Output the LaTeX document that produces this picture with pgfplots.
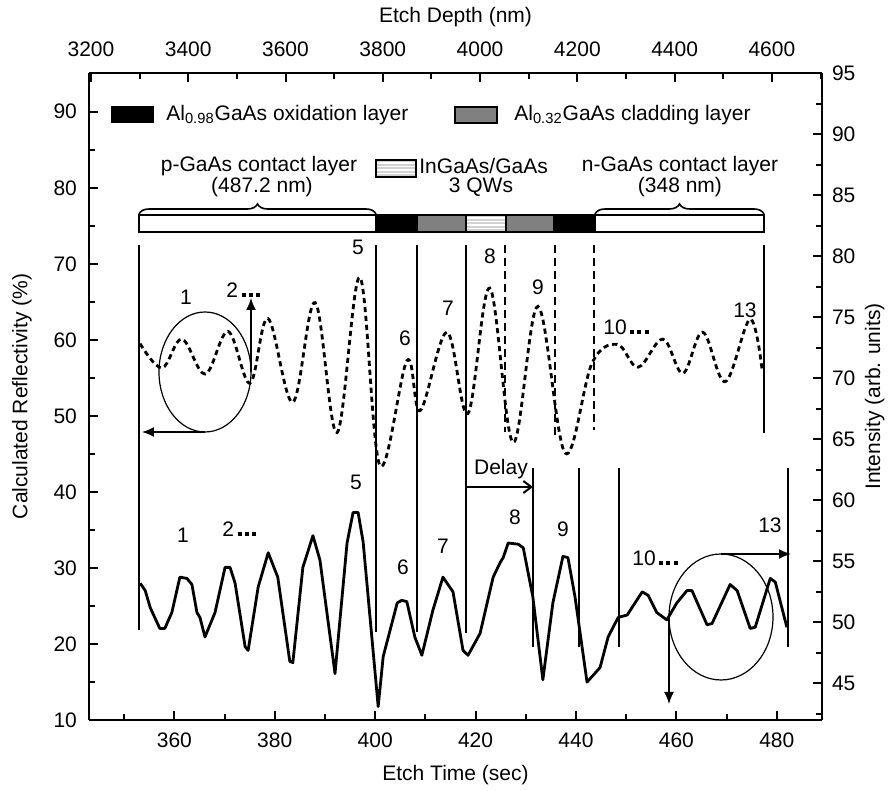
\documentclass[border=0pt]{standalone}
\usepackage{fontspec}
\setmainfont{Liberation Sans}
\usepackage{pgfplots}
\pgfplotsset{compat=1.18}
\usetikzlibrary{decorations.pathreplacing,arrows.meta}

% dotted curve: calculated reflectivity vs etch depth
\pgfplotstableread{
d R
3301 59.5
3346 56.3
3387 60.1
3435 55.5
3482 61.1
3527 54.3
3564 62.8
3615 51.8
3661 64.9
3706 47.8
3753 68.2
3794 43.5
3850 57.3
3877 50.7
3932 61.0
3975 50.3
4020 66.8
4068 46.5
4119 64.4
4175 45.1
4230 56.9
4282 59.4
4325 56.4
4376 60.1
4417 55.6
4458 61.0
4504 54.5
4555 62.7
4580 56.0
}\refl

% solid curve: measured intensity vs etch time
\pgfplotstableread{
t I
353.2 53.2
354.2 52.6
355.2 51.2
357.1 49.5
358.1 49.5
359.5 50.8
361.1 53.7
362.5 53.6
363.5 53.1
364.5 50.8
365.1 50.4
366.1 48.8
368.1 50.8
370.1 54.5
371.1 54.5
372.1 53.2
374.1 48.0
374.7 47.7
376.7 52.9
378.7 55.7
380.6 53.7
383.0 46.8
383.6 46.7
385.6 54.5
387.6 57.1
389.0 55.1
392.0 45.8
394.4 56.5
395.6 59.0
396.6 59.0
397.6 56.6
400.6 43.1
401.6 47.2
404.4 51.6
405.3 51.8
406.3 51.7
407.9 48.8
409.3 47.3
411.5 51.0
413.5 53.7
415.5 52.5
417.5 47.7
418.5 47.3
420.9 49.1
423.5 53.7
424.9 54.9
425.5 55.3
426.5 56.5
428.5 56.4
429.5 56.1
431.4 52.1
433.4 45.3
435.4 51.6
437.4 55.4
438.4 55.3
439.8 52.1
442.2 45.1
444.8 46.3
446.4 48.8
448.4 50.4
450.2 50.6
453.2 52.5
454.4 52.2
456.1 50.8
458.1 50.2
460.1 51.6
462.1 52.6
463.1 52.6
466.1 49.8
467.1 49.9
470.7 53.1
472.1 52.6
474.7 49.5
475.7 49.6
478.7 53.6
479.7 53.3
482.0 49.6
}\inten

\newcommand\sqdots{\,\rule{2pt}{2pt}\hspace{1.6pt}\rule{2pt}{2pt}\hspace{1.6pt}\rule{2pt}{2pt}}

\begin{document}
\begin{tikzpicture}[font=\fontsize{10.5}{12.6}\selectfont]
\pgfplotsset{
  base/.style={
    at={(0,0)}, anchor=south west, scale only axis,
    width=366.5pt, height=323.5pt,
    tick align=inside,
    major tick length=4.5pt, minor tick length=3pt,
    axis line style={line width=1.2pt},
    every tick/.style={line width=1pt, black},
    tick label style={font=\fontsize{10.5}{12.6}\selectfont},
    /pgf/number format/assume math mode=true,
    /pgf/number format/1000 sep={},
    scaled ticks=false,
  },
}
% bottom / left axes
\begin{axis}[base,
  xmin=343, xmax=489, ymin=10, ymax=95.1,
  axis x line*=bottom, axis y line*=left,
  xtick={360,380,...,480}, minor xtick={350,370,...,470},
  ytick={10,20,...,90}, minor ytick={15,25,...,85},
  xticklabel style={yshift=-3pt},
  yticklabel style={xshift=-2.5pt},
  xlabel={Etch Time (sec)},
  ylabel={Calculated Reflectivity (\%)},
  xlabel style={at={(axis description cs:0.5,-0.085)}, anchor=center},
  ylabel style={at={(axis description cs:-0.0914,0.5)}, anchor=center, rotate=0},
]
\end{axis}
% top axis: reflectivity vs etch depth
\begin{axis}[base,
  xmin=3196, xmax=4703, ymin=10, ymax=95.1,
  axis x line*=top, axis y line=none,
  xtick={3200,3400,...,4600}, minor xtick={3300,3500,...,4700},
  xticklabel style={yshift=4.5pt},
  xlabel={Etch Depth (nm)},
  xlabel style={at={(axis description cs:0.5,1.087)}, anchor=center},
]
\addplot[black, line width=1.4pt, dash pattern=on 2.6pt off 1.9pt, smooth, tension=0.6]
  table[x=d, y=R] {\refl};
\end{axis}
% right axis: intensity vs etch time
\begin{axis}[base,
  xmin=343, xmax=489, ymin=42, ymax=95,
  axis x line=none, axis y line*=right,
  ytick={45,50,...,95}, minor ytick={42.5,47.5,...,92.5},
  yticklabel style={xshift=1.5pt},
  ylabel={Intensity (arb. units)},
  ylabel style={at={(axis description cs:1.072,0.5)}, anchor=center, rotate=0},
]
\addplot[black, line width=1.4pt, line join=round] table[x=t, y=I] {\inten};
\end{axis}

% annotations, in picture pixel units (origin at top left of the picture)
\begin{scope}[shift={(-44.5pt,360pt)}, x=0.5pt, y=-0.5pt, every node/.style={inner sep=1pt}]
  % legend
  \fill (111,106) rectangle (154,123);
  \node[anchor=west] at (164,115) {Al\textsubscript{0.98}GaAs oxidation layer};
  \filldraw[fill=gray, line width=0.7pt] (455,107) rectangle (497,123);
  \node[anchor=west] at (512,115) {Al\textsubscript{0.32}GaAs cladding layer};
  % layer labels
  \node at (259,166) {p-GaAs contact layer};
  \node at (262,187) {(487.2 nm)};
  \fill[gray!35] (376,160) rectangle (416,177);
  \foreach \yy in {163,166.5,170,173.5} \draw[white, line width=0.8pt] (376,\yy) -- (416,\yy);
  \draw[line width=0.6pt] (376,160) rectangle (416,177);
  \node[anchor=west] at (417,166) {InGaAs/GaAs};
  \node at (481,187) {3 QWs};
  \node at (680,166) {n-GaAs contact layer};
  \node at (680,187) {(348 nm)};
  % layer bar
  \fill (376,215) rectangle (417,232);
  \fill[gray] (417,215) rectangle (466,232);
  \fill[gray!35] (466,215) rectangle (506,232);
  \foreach \yy in {218,221.5,225,228.5} \draw[white, line width=0.8pt] (466,\yy) -- (506,\yy);
  \fill[gray] (506,215) rectangle (554,232);
  \fill (554,215) rectangle (595,232);
  \draw[line width=0.9pt] (139,215) rectangle (764,232);
  \foreach \xx in {376,417,466,506,554,595} \draw[line width=0.9pt] (\xx,215) -- (\xx,232);
  % braces
  \draw[line width=0.8pt, decorate, decoration={brace, amplitude=5pt}] (139,214) -- (376,214);
  \draw[line width=0.8pt, decorate, decoration={brace, amplitude=5pt}] (595,214) -- (764,214);
  % marker lines for the calculated curve
  \foreach \xx/\yy in {139/630,376/632,417/632,466/633,764/433}
    \draw[line width=1pt] (\xx,245) -- (\xx,\yy);
  \foreach \xx/\yy in {505/432,555/436,594/430}
    \draw[line width=1pt, dash pattern=on 4pt off 2.5pt] (\xx,245) -- (\xx,\yy);
  % marker lines for the measured curve
  \foreach \xx in {533,579,619,788}
    \draw[line width=1pt] (\xx,468) -- (\xx,647);
  % delay
  \draw[line width=1pt, -{Straight Barb[length=4pt,width=6pt]}] (466,487) -- (533,487);
  \node at (501,469) {Delay};
  % circles and arrows
  \draw[line width=0.6pt] (205,372) ellipse [x radius=23pt, y radius=30pt];
  \draw[line width=0.8pt, -{Latex[length=6pt,width=5pt]}] (205,432) -- (142,432);
  \draw[line width=0.8pt, -{Latex[length=6pt,width=5pt]}] (251,372) -- (251,298);
  \draw[line width=0.6pt] (721,617) ellipse [x radius=26pt, y radius=31.5pt];
  \draw[line width=0.8pt, -{Latex[length=6pt,width=5pt]}] (721,554) -- (791,554);
  \draw[line width=0.8pt, -{Latex[length=6pt,width=5pt]}] (669,618) -- (669,704);
  % peak numbers, calculated curve
  \node at (186,297) {1};
  \node[anchor=west] at (224,290) {2\sqdots};
  \node at (358,247) {5};
  \node at (405,338) {6};
  \node at (448,308) {7};
  \node at (490,256) {8};
  \node at (538,287) {9};
  \node[anchor=west] at (601,327) {10\sqdots};
  \node at (745,310) {13};
  % peak numbers, measured curve
  \node at (183,535) {1};
  \node[anchor=west] at (220,529) {2\sqdots};
  \node at (356,482) {5};
  \node at (403,567) {6};
  \node at (443,546) {7};
  \node at (515,517) {8};
  \node at (563,529) {9};
  \node[anchor=west] at (630,558) {10\sqdots};
  \node at (770,525) {13};
\end{scope}

\pgfresetboundingbox
\useasboundingbox (-44.5pt,-35.5pt) rectangle (401pt,360pt);
\end{tikzpicture}
\end{document}
